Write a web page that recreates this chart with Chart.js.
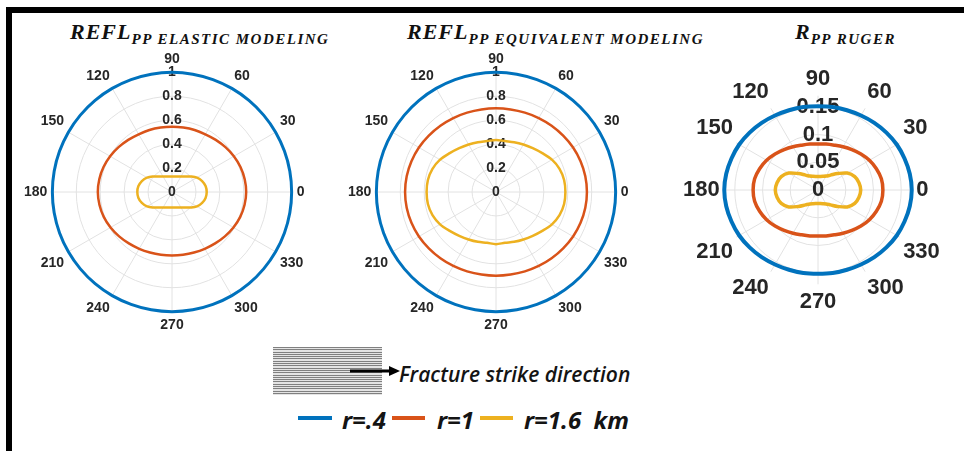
<!DOCTYPE html>
<html>
<head>
<meta charset="utf-8">
<script src="https://cdn.jsdelivr.net/npm/chart.js@4.4.1/dist/chart.umd.min.js"></script>
<style>
  html, body { margin: 0; padding: 0; background: #fff; }
  body { width: 964px; height: 451px; position: relative; overflow: hidden; }
  .frame { position: absolute; left: 6px; top: 7px; width: 980px; height: 460px;
           border-top: 6px solid #000; border-left: 6px solid #000; }
  .plot { position: absolute; }
  .ttl { position: absolute; top: 21px; line-height: 21px; white-space: nowrap; color: #111;
         font-family: "Liberation Serif", "DejaVu Serif", serif; font-weight: bold; font-style: italic; }
  .ttl .big { font-size: 22px; letter-spacing: 1px; }
  .ttl .sub { font-size: 15px; letter-spacing: 1.5px; position: relative; top: 5px; }
  .stripes { position: absolute; left: 273px; top: 347px; width: 109px; height: 48px;
             background: repeating-linear-gradient(to bottom, #808080 0px, #808080 1px, #e4e4e4 1px, #e4e4e4 2.3px); }
  .arrow { position: absolute; left: 348px; top: 364px; }
  .note { position: absolute; left: 399px; top: 364px; line-height: 21px; white-space: nowrap;
          font-family: "Open Sans", sans-serif; font-size: 21px; font-style: italic; font-weight: 600; color: #141414; }
  .lg-bar { position: absolute; top: 416px; height: 4px; }
  .lg-txt { position: absolute; top: 408px; line-height: 24px; white-space: nowrap;
            font-family: "Open Sans", sans-serif; font-size: 24px; font-style: italic; font-weight: bold; color: #141414; }
</style>
</head>
<body>
<div class="frame"></div>

<div class="ttl" style="left:70px"><span class="big">REFL</span><span class="sub">PP ELASTIC MODELING</span></div>
<div class="ttl" style="left:407px"><span class="big">REFL</span><span class="sub">PP EQUIVALENT MODELING</span></div>
<div class="ttl" style="left:795px"><span class="big">R</span><span class="sub">PP RUGER</span></div>

<canvas id="elastic" class="plot" width="296" height="296" style="left:17px; top:45px"></canvas>
<canvas id="equivalent" class="plot" width="296" height="296" style="left:341px; top:45px"></canvas>
<canvas id="ruger" class="plot" width="270" height="270" style="left:677px; top:55px"></canvas>

<div class="stripes"></div>
<svg class="arrow" width="56" height="14">
  <line x1="2" y1="7" x2="44" y2="7" stroke="#000" stroke-width="3"/>
  <polygon points="41,2 52,7 41,12" fill="#000"/>
</svg>
<div class="note">Fracture strike direction</div>

<div class="lg-bar" style="left:298px; width:34px; background:#0072BD"></div>
<div class="lg-txt" style="left:342px">r=.4</div>
<div class="lg-bar" style="left:392px; width:33px; background:#D95319"></div>
<div class="lg-txt" style="left:437px">r=1</div>
<div class="lg-bar" style="left:480px; width:33px; background:#EDB120"></div>
<div class="lg-txt" style="left:524px">r=1.6 &nbsp;km</div>

<script>
// polar angles (deg, counter-clockwise from east) at which the curves were read
const sampleAngles = [0, 10, 20, 30, 40, 50, 60, 70, 80, 90, 100, 110, 120, 130, 140, 150, 160, 170,
                      180, 190, 200, 210, 220, 230, 240, 250, 260, 270, 280, 290, 300, 310, 320, 330, 340, 350];
const angleTicks = [0, 30, 60, 90, 120, 150, 180, 210, 240, 270, 300, 330];
const rTicksRefl = [0, 0.2, 0.4, 0.6, 0.8, 1];
const rTicksRuger = [0, 0.05, 0.1, 0.15];
const seriesNames = ['r=.4', 'r=1', 'r=1.6 km'];
const seriesColors = ['#0072BD', '#D95319', '#EDB120'];

// REFL_PP elastic modeling
const elasticR04 = [1, 1, 1, 1, 1, 1, 1, 1, 1, 1, 1, 1, 1, 1, 1, 1, 1, 1,
                    1, 1, 1, 1, 1, 1, 1, 1, 1, 1, 1, 1, 1, 1, 1, 1, 1, 1];
const elasticR1 = [0.62, 0.617, 0.609, 0.597, 0.583, 0.569, 0.557, 0.552, 0.547, 0.545, 0.547, 0.552, 0.557, 0.569, 0.583, 0.597, 0.609, 0.617,
                   0.62, 0.616, 0.607, 0.593, 0.577, 0.561, 0.548, 0.538, 0.532, 0.53, 0.532, 0.538, 0.548, 0.561, 0.577, 0.593, 0.607, 0.616];
const elasticR16 = [0.29, 0.285, 0.268, 0.241, 0.202, 0.17, 0.15, 0.138, 0.132, 0.13, 0.132, 0.138, 0.15, 0.17, 0.202, 0.241, 0.268, 0.285,
                    0.29, 0.285, 0.268, 0.241, 0.202, 0.17, 0.15, 0.138, 0.132, 0.13, 0.132, 0.138, 0.15, 0.17, 0.202, 0.241, 0.268, 0.285];

// REFL_PP equivalent modeling
const equivR04 = [1, 1, 1, 1, 1, 1, 1, 1, 1, 1, 1, 1, 1, 1, 1, 1, 1, 1,
                  1, 1, 1, 1, 1, 1, 1, 1, 1, 1, 1, 1, 1, 1, 1, 1, 1, 1];
const equivR1 = [0.76, 0.758, 0.752, 0.744, 0.733, 0.723, 0.714, 0.706, 0.701, 0.7, 0.701, 0.706, 0.714, 0.723, 0.733, 0.744, 0.752, 0.758,
                 0.76, 0.758, 0.752, 0.744, 0.733, 0.723, 0.714, 0.706, 0.701, 0.7, 0.701, 0.706, 0.714, 0.723, 0.733, 0.744, 0.752, 0.758];
const equivR16 = [0.58, 0.578, 0.565, 0.54, 0.505, 0.478, 0.458, 0.443, 0.432, 0.435, 0.432, 0.443, 0.458, 0.478, 0.505, 0.54, 0.565, 0.578,
                  0.58, 0.578, 0.565, 0.54, 0.505, 0.478, 0.458, 0.443, 0.431, 0.436, 0.431, 0.443, 0.458, 0.478, 0.505, 0.54, 0.565, 0.578];

// R_PP Ruger
const rugerR04 = [0.169, 0.168, 0.166, 0.164, 0.161, 0.158, 0.155, 0.153, 0.152, 0.151, 0.152, 0.153, 0.155, 0.158, 0.161, 0.164, 0.166, 0.168,
                  0.169, 0.168, 0.166, 0.164, 0.161, 0.158, 0.155, 0.153, 0.152, 0.151, 0.152, 0.153, 0.155, 0.158, 0.161, 0.164, 0.166, 0.168];
const rugerR1 = [0.117, 0.116, 0.112, 0.107, 0.101, 0.095, 0.09, 0.086, 0.084, 0.083, 0.084, 0.086, 0.09, 0.095, 0.101, 0.107, 0.112, 0.116,
                 0.117, 0.116, 0.112, 0.107, 0.101, 0.095, 0.09, 0.086, 0.084, 0.083, 0.084, 0.086, 0.09, 0.095, 0.101, 0.107, 0.112, 0.116];
const rugerR16 = [0.077, 0.075, 0.0705, 0.061, 0.046, 0.035, 0.029, 0.0262, 0.0248, 0.0244, 0.0248, 0.0262, 0.029, 0.035, 0.046, 0.061, 0.0705, 0.075,
                  0.077, 0.075, 0.0705, 0.061, 0.046, 0.035, 0.029, 0.0262, 0.0248, 0.0244, 0.0248, 0.0262, 0.029, 0.035, 0.046, 0.061, 0.0705, 0.075];

const gridColor = '#e2e2e2';
const textColor = '#262626';
const fontFamily = "'Liberation Sans', Arial, sans-serif";

// radar goes clockwise from the top, so walk the sample angles from 90 deg clockwise
const radarOrder = sampleAngles.map((a, i) => (90 - i * 10 + 360) % 360);

function makePolar(id, series, rTicks, rMax, tickSize, labelSize, labelPad, widths) {
  const datasets = series.map((vals, k) => ({
    label: seriesNames[k],
    data: radarOrder.map(a => vals[sampleAngles.indexOf(a)]),
    borderColor: seriesColors[k],
    borderWidth: widths[k],
    pointRadius: 0,
    fill: false,
    tension: 0.33
  }));

  return new Chart(document.getElementById(id), {
    type: 'radar',
    data: { labels: radarOrder, datasets: datasets },
    options: {
      responsive: false,
      animation: false,
      devicePixelRatio: 1,
      events: [],
      layout: { padding: 0 },
      plugins: { legend: { display: false }, tooltip: { enabled: false } },
      scales: {
        r: {
          min: -0.000001,
          max: rMax,
          startAngle: 0,
          afterBuildTicks: axis => { axis.ticks = rTicks.map(v => ({ value: v })); },
          grid: {
            circular: true,
            lineWidth: 1,
            color: c => (c.tick && c.tick.value === 0) ? 'rgba(0,0,0,0)' : gridColor
          },
          angleLines: {
            color: gridColor,
            lineWidth: c => c.label ? 1 : 0
          },
          ticks: {
            showLabelBackdrop: false,
            backdropPadding: 0,
            color: textColor,
            font: { family: fontFamily, size: tickSize, weight: 'bold' },
            callback: v => String(v)
          },
          pointLabels: {
            padding: labelPad,
            color: textColor,
            font: { family: fontFamily, size: labelSize, weight: 'bold' },
            callback: a => angleTicks.includes(a) ? String(a) : ''
          }
        }
      }
    }
  });
}

makePolar('elastic', [elasticR04, elasticR1, elasticR16], rTicksRefl, 1, 14, 14, -2, [3, 2.5, 2.5]);
makePolar('equivalent', [equivR04, equivR1, equivR16], rTicksRefl, 1, 14, 14, -2, [3, 2.5, 2.5]);
makePolar('ruger', [rugerR04, rugerR1, rugerR16], rTicksRuger, 0.17, 22, 22, -7, [4, 3.5, 3.5]);
</script>
</body>
</html>
